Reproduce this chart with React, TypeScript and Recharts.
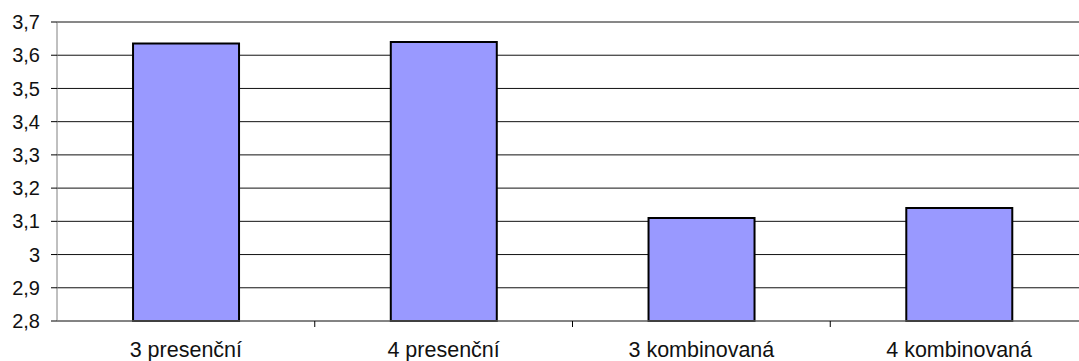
import { BarChart, Bar, XAxis, YAxis, CartesianGrid } from 'recharts';

const categories = ['3 presenční', '4 presenční', '3 kombinovaná', '4 kombinovaná'];
const values = [3.635, 3.64, 3.11, 3.14];
const yTicks = [2.8, 2.9, 3, 3.1, 3.2, 3.3, 3.4, 3.5, 3.6, 3.7];

const data = categories.map((name, i) => ({ name, value: values[i] }));

const FONT = '"Liberation Sans", Arial, sans-serif';
const X_TICK_SIZE = 6;
const X_TICK_MARGIN = 15;

const formatTick = (v: number) => String(v).replace('.', ',');

// label centred under the bar, plus a small divider mark on the left category boundary
const CategoryTick = (props: any) => {
  const { x, y, payload, index } = props;
  const axisY = y - X_TICK_SIZE - X_TICK_MARGIN;
  const half = payload.offset ?? 0;
  return (
    <g>
      {index > 0 && (
        <line x1={x - half} x2={x - half} y1={axisY} y2={axisY + X_TICK_SIZE} stroke="#000" strokeWidth={1} />
      )}
      <text x={x} y={y} dy="0.7em" textAnchor="middle" fill="#111" fontSize={21.5} fontFamily={FONT}>
        {payload.value}
      </text>
    </g>
  );
};

export default function App() {
  return (
    <div style={{ width: 1079, height: 361, overflow: 'hidden', background: '#fff' }}>
      <style>{'body{margin:0}'}</style>
      <BarChart
        width={1100}
        height={361}
        data={data}
        margin={{ top: 22, right: 12, left: 0, bottom: 0 }}
        barCategoryGap="29.5%"
      >
        <CartesianGrid horizontal vertical={false} stroke="#111" strokeWidth={1} />
        <XAxis
          dataKey="name"
          height={40}
          axisLine={{ stroke: '#808080', strokeWidth: 1 }}
          tickLine={false}
          tickSize={X_TICK_SIZE}
          tickMargin={X_TICK_MARGIN}
          tick={<CategoryTick />}
          interval={0}
        />
        <YAxis
          width={57}
          domain={[2.8, 3.7]}
          ticks={yTicks}
          interval={0}
          tickFormatter={formatTick}
          axisLine={{ stroke: '#808080', strokeWidth: 1 }}
          tickLine={{ stroke: '#000' }}
          tickSize={6}
          tickMargin={11}
          tick={{ fill: '#111', fontSize: 20, fontFamily: FONT }}
        />
        <Bar dataKey="value" fill="#9999FF" stroke="#000" strokeWidth={2} isAnimationActive={false} />
      </BarChart>
    </div>
  );
}
